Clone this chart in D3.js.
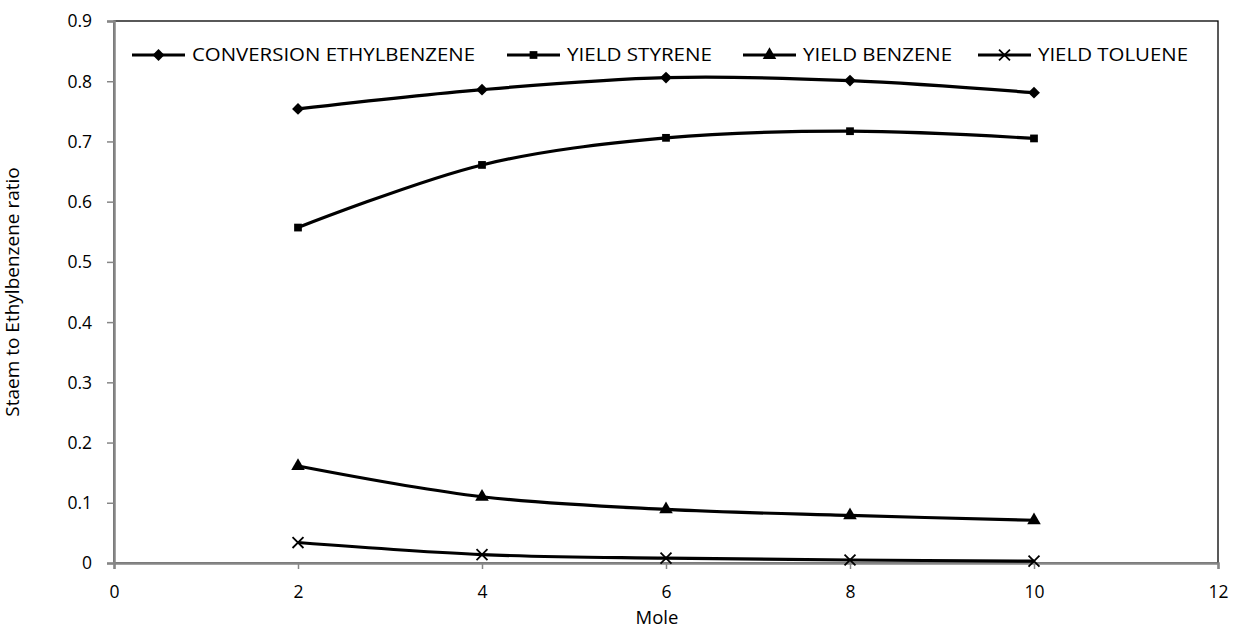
<!DOCTYPE html>
<html>
<head>
<meta charset="utf-8">
<script src="https://cdn.jsdelivr.net/npm/d3@7"></script>
<style>
  body { margin: 0; background: #fff; }
  svg { display: block; font-family: 'Open Sans', 'Noto Sans', sans-serif; }
</style>
</head>
<body>
<svg width="1240" height="629"></svg>
<script>
const moles = [2, 4, 6, 8, 10];
const conversionEB = [0.754, 0.786, 0.806, 0.801, 0.781];
const yieldStyrene = [0.557, 0.661, 0.706, 0.717, 0.705];
const yieldBenzene = [0.161, 0.110, 0.089, 0.079, 0.071];
const yieldToluene = [0.034, 0.014, 0.008, 0.005, 0.003];
const seriesNames = ['CONVERSION ETHYLBENZENE', 'YIELD STYRENE', 'YIELD BENZENE', 'YIELD TOLUENE'];
const markers = ['diamond', 'square', 'triangle', 'cross'];
const xTicks = [0, 2, 4, 6, 8, 10, 12];
const yTicks = [0, 0.1, 0.2, 0.3, 0.4, 0.5, 0.6, 0.7, 0.8, 0.9];

const createChart = () => {
  const width = 1240;
  const height = 629;
  const margin = { top: 21, right: 22, bottom: 66, left: 114 };
  const axisGrey = '#868686';

  const svg = d3.select('svg');

  const x = d3.scaleLinear().domain([0, 12]).range([margin.left, width - margin.right]);
  const y = d3.scaleLinear().domain([0, 0.9]).range([height - margin.bottom, margin.top]);

  const allSeries = [conversionEB, yieldStyrene, yieldBenzene, yieldToluene].map((vals, i) => ({
    name: seriesNames[i],
    marker: markers[i],
    points: vals.map((v, j) => ({ x: moles[j], y: v }))
  }));

  // plot area frame (top & right show black)
  svg.append('rect')
    .attr('x', x(0)).attr('y', y(0.9))
    .attr('width', x(12) - x(0)).attr('height', y(0) - y(0.9))
    .attr('fill', 'none')
    .attr('stroke', '#000')
    .attr('stroke-width', 1.3);

  const xAxis = svg.append('g')
    .attr('transform', `translate(0,${y(0)})`)
    .call(d3.axisBottom(x).tickValues(xTicks).tickSize(6).tickPadding(17).tickFormat(d3.format('d')));

  const yAxis = svg.append('g')
    .attr('transform', `translate(${x(0)},0)`)
    .call(d3.axisLeft(y).tickValues(yTicks).tickSize(7).tickPadding(15).tickFormat(d => d === 0 ? '0' : d3.format('.1f')(d)));

  [xAxis, yAxis].forEach(ax => {
    ax.select('.domain').attr('stroke', axisGrey).attr('stroke-width', 2.5);
    ax.selectAll('.tick line').attr('stroke', axisGrey).attr('stroke-width', 1.5);
    ax.selectAll('.tick text').attr('fill', '#000').attr('font-size', 17.5)
      .attr('font-family', "'Open Sans', sans-serif");
  });
  yAxis.selectAll('.tick text').attr('dy', '0.34em');

  const line = d3.line()
    .x(d => x(d.x))
    .y(d => y(d.y))
    .curve(d3.curveCatmullRom.alpha(0.5));

  const symbolFor = name => {
    if (name === 'diamond') return d3.symbol().type(d3.symbolDiamond2).size(90)();
    if (name === 'square') return d3.symbol().type(d3.symbolSquare).size(60)();
    if (name === 'triangle') return d3.symbol().type(d3.symbolTriangle).size(80)();
    return d3.symbol().type(d3.symbolTimes).size(80)();
  };

  const drawMarker = (sel, name) => {
    sel.attr('d', symbolFor(name))
      .attr('fill', name === 'cross' ? 'none' : '#000')
      .attr('stroke', '#000')
      .attr('stroke-width', name === 'cross' ? 1.8 : 0);
  };

  const seriesG = svg.append('g')
    .selectAll('g')
    .data(allSeries)
    .join('g');

  seriesG.append('path')
    .attr('d', d => line(d.points))
    .attr('fill', 'none')
    .attr('stroke', '#000')
    .attr('stroke-width', 3.2);

  seriesG.each(function(s) {
    d3.select(this).selectAll('path.mk')
      .data(s.points)
      .join('path')
      .attr('class', 'mk')
      .attr('transform', d => `translate(${x(d.x)},${y(d.y)})`)
      .call(sel => drawMarker(sel, s.marker));
  });

  // legend
  const legendX = [132, 507, 743, 978];
  const legendY = 55;
  const legend = svg.append('g')
    .selectAll('g')
    .data(allSeries)
    .join('g')
    .attr('transform', (d, i) => `translate(${legendX[i]},${legendY})`);

  legend.append('line')
    .attr('x1', 0).attr('x2', 53)
    .attr('stroke', '#000').attr('stroke-width', 3);

  legend.append('path')
    .attr('transform', 'translate(26.5,0)')
    .each(function(d) { drawMarker(d3.select(this), d.marker); });

  legend.append('text')
    .attr('x', 60)
    .attr('dy', '0.36em')
    .attr('font-size', 18)
    .text(d => d.name)
    .each(function(d, i) {
      const target = [283, 145, 149, 150][i];
      if (Math.abs(this.getComputedTextLength() - target) > 2) {
        d3.select(this).attr('textLength', target).attr('lengthAdjust', 'spacingAndGlyphs');
      }
    });

  // axis titles
  svg.append('text')
    .attr('x', (x(0) + x(12)) / 2 - 9)
    .attr('y', 624)
    .attr('text-anchor', 'middle')
    .attr('font-size', 18.5)
    .text('Mole');

  svg.append('text')
    .attr('transform', `translate(19,${(y(0) + y(0.9)) / 2}) rotate(-90)`)
    .attr('text-anchor', 'middle')
    .attr('font-size', 19)
    .text('Staem to Ethylbenzene ratio');
};

window.addEventListener('DOMContentLoaded', () => {
  createChart();
});
</script>
</body>
</html>
